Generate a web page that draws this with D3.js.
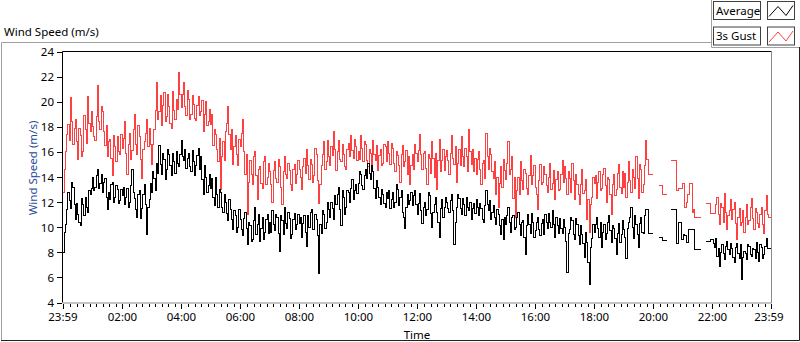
<!DOCTYPE html>
<html>
<head>
<meta charset="utf-8">
<script src="https://cdn.jsdelivr.net/npm/d3@7"></script>
<style>
  body { margin: 0; background: #fff; }
  svg { display: block; font-family: "Noto Sans", sans-serif; font-size: 11.5px; }
</style>
</head>
<body>
<script>
// minutes since 23:59 of the previous day, one reading every 5 minutes
const minutes = d3.range(0, 1441, 5);

// 1-minute average (black) on the 5-minute marks, null = no data
const average = [
  8.0, 10.2, 12.8, 11.5, 13.2, 10.6, 11.0, 10.1, 11.8, 12.4, 11.2, 12.6,
  14.0, 13.2, 14.6, 13.5, 12.8, 13.9, 11.4, 12.2, 13.6, 12.4, 13.0, 12.1,
  12.5, 11.8, 13.1, 12.0, 14.6, 12.3, 10.8, 12.9, 11.5, 13.4, 9.4, 12.2,
  12.8, 13.9, 15.1, 16.5, 14.2, 15.4, 14.6, 15.8, 14.1, 15.2, 16.0, 14.8,
  16.9, 15.3, 14.7, 15.9, 14.4, 15.2, 14.9, 16.3, 15.6, 12.6, 14.0, 13.3,
  13.1, 12.4, 14.0, 11.6, 12.8, 11.2, 12.0, 10.5, 11.4, 9.8, 10.9, 10.0,
  10.6, 9.3, 11.2, 8.6, 10.1, 9.0, 11.6, 10.2, 8.9, 10.8, 9.6, 11.0,
  10.4, 11.3, 9.7, 10.8, 8.1, 10.5, 11.6, 9.9, 10.7, 9.4, 11.1, 10.2,
  10.3, 9.2, 10.9, 8.5, 10.0, 11.4, 9.8, 10.6, 6.3, 9.5, 11.0, 10.4,
  11.4, 12.0, 10.6, 11.8, 13.2, 10.1, 12.4, 11.6, 12.8, 13.1, 12.2, 13.4,
  13.5, 14.2, 13.0, 14.6, 15.1, 13.8, 14.4, 12.3, 13.2, 11.8, 12.6, 11.6,
  12.3, 11.5, 12.8, 12.0, 13.0, 12.4, 11.2, 9.9, 12.6, 12.1, 11.7, 12.9,
  11.0, 12.7, 10.3, 12.0, 11.4, 12.5, 10.0, 11.8, 11.2, 9.2, 12.2, 11.6,
  12.0, 11.2, 12.6, 8.6, 11.6, 12.3, 11.0, 11.8, 12.4, 11.3, 10.6, 11.9,
  12.2, 10.9, 11.5, 10.4, 12.9, 11.3, 10.6, 11.7, 10.2, 11.0, 9.4, 9.0,
  10.2, 11.6, 9.6, 10.9, 10.0, 11.2, 9.3, 10.5, 7.8, 11.0, 9.5, 10.4,
  9.7, 10.8, 9.3, 10.6, 11.0, 9.9, 10.4, 11.3, 9.2, 10.1, 10.7, 9.5,
  10.0, 6.4, 9.8, 10.5, 9.0, 10.2, 8.6, 9.4, 7.6, 8.8, 5.4, 9.1,
  9.6, 10.8, 9.2, 8.4, 10.2, 9.5, 10.9, 8.8, 9.9, 7.8, 10.3, 9.4,
  9.8, 7.5, 10.4, 11.6, 9.1, 10.2, 8.4, 10.8, 9.5, 11.4, 9.5, 9.5,
  9.5, null, null, 9.2, 8.95, 8.95, null, null, 11.4, 11.4, 8.7, 10.4,
  9.0, 9.3, 8.8, 9.8, 9.8, 8.2, 8.2, 8.2, null, null, 8.9, 8.9,
  9.0, 8.4, 7.7, 6.9, 8.6, 7.4, 8.9, 7.8, 8.3, 7.2, 8.7, 7.5,
  5.8, 8.1, 7.4, 8.5, 7.7, 8.2, 8.8, 7.3, 8.4, 7.8, 9.1, 8.3,
  8.3
];
// average half way between the 5-minute marks (t + 2.5 min)
const averageMid = [
  9.6, 11.4, 12.1, 13.6, 11.8, 11.9, 10.4, 12.3, 10.9, 11.6, 12.9, 13.1,
  12.9, 14.1, 13.1, 14.2, 13.6, 12.4, 12.8, 13.4, 12.0, 13.3, 11.9, 13.0,
  13.2, 12.4, 11.6, 13.3, 12.8, 11.4, 12.6, 10.7, 12.6, 11.8, 11.6, 13.5,
  14.4, 12.9, 14.3, 15.0, 15.9, 13.8, 16.2, 14.9, 15.9, 14.3, 15.1, 15.8,
  15.6, 16.2, 15.5, 14.8, 16.1, 14.1, 15.7, 14.6, 13.8, 14.9, 12.8, 14.2,
  13.9, 11.7, 12.6, 13.0, 11.6, 12.6, 11.1, 12.2, 10.6, 11.3, 9.6, 11.4,
  9.8, 10.7, 9.9, 10.4, 8.9, 10.5, 9.4, 11.0, 9.9, 9.0, 10.6, 9.5,
  9.6, 10.2, 11.0, 9.5, 10.9, 9.4, 10.3, 11.2, 9.1, 10.6, 9.8, 11.0,
  10.8, 10.3, 9.6, 10.9, 11.2, 9.8, 11.0, 9.3, 10.2, 11.3, 9.9, 12.0,
  10.8, 11.5, 12.5, 12.6, 11.4, 12.9, 11.0, 12.9, 12.0, 13.8, 12.9, 12.7,
  14.4, 13.3, 14.1, 13.9, 14.3, 14.9, 13.1, 13.7, 12.4, 13.0, 11.9, 12.8,
  12.9, 12.2, 11.6, 13.4, 11.7, 12.9, 10.8, 11.6, 11.8, 12.8, 12.5, 11.8,
  11.9, 11.3, 11.6, 10.9, 12.8, 11.1, 11.2, 12.4, 10.4, 11.5, 10.8, 12.4,
  11.5, 12.1, 11.3, 10.4, 12.6, 11.5, 12.3, 10.9, 11.6, 12.0, 11.5, 11.1,
  11.6, 11.9, 10.6, 11.7, 11.8, 12.1, 11.2, 10.8, 11.4, 10.1, 10.6, 10.8,
  10.9, 10.4, 10.8, 9.8, 10.8, 10.2, 10.4, 9.2, 10.1, 10.2, 11.1, 9.2,
  10.4, 9.8, 10.3, 9.4, 10.4, 11.1, 10.0, 10.2, 10.8, 9.5, 9.9, 10.6,
  8.9, 9.5, 10.8, 9.4, 10.7, 9.3, 10.1, 8.7, 9.6, 7.2, 8.4, 10.2,
  10.2, 9.9, 10.4, 9.6, 9.0, 10.4, 9.7, 10.1, 9.1, 9.5, 8.8, 10.5,
  9.2, 9.9, 10.8, 10.0, 10.9, 9.4, 10.3, 9.6, 10.9, 11.4, 9.5, 9.5,
  null, null, 9.2, 9.2, 8.95, 8.95, null, 11.4, 11.4, 8.7, 10.4, 9.0,
  9.4, 8.8, 9.8, 9.8, 9.8, 8.2, 8.2, 8.2, null, 8.9, 8.9, 9.0,
  8.7, 9.1, 8.3, 8.0, 7.9, 8.5, 8.2, 8.7, 7.6, 8.4, 7.9, 8.6,
  7.6, 7.9, 8.6, 7.8, 8.3, 7.5, 8.0, 8.6, 7.5, 8.5, 8.3, 8.3
];

// 3 second gust (red) on the 5-minute marks
const gust = [
  12.8, 16.0, 18.2, 20.3, 16.6, 18.6, 15.4, 17.3, 16.0, 17.8, 20.4, 17.6,
  18.0, 16.9, 21.3, 17.8, 19.2, 16.5, 15.6, 17.0, 14.1, 16.4, 17.2, 15.8,
  16.3, 18.4, 14.2, 17.5, 16.1, 19.0, 15.8, 17.2, 13.9, 16.8, 18.6, 17.9,
  15.0, 17.8, 21.5, 19.2, 18.1, 20.7, 18.8, 19.6, 17.9, 19.3, 20.2, 22.3,
  19.5, 21.5, 18.9, 20.2, 19.0, 19.8, 18.5, 20.4, 19.2, 17.6, 20.0, 18.4,
  18.2, 16.5, 17.4, 15.2, 13.0, 16.8, 17.6, 19.6, 16.2, 15.0, 17.3, 14.9,
  16.4, 18.6, 14.2, 11.0, 15.3, 13.4, 16.0, 12.2, 14.8, 13.1, 15.6, 14.0,
  14.4, 12.0, 15.2, 13.6, 14.8, 11.8, 15.6, 13.9, 14.5, 12.9, 15.0, 14.2,
  14.6, 13.0, 15.5, 16.2, 13.8, 15.0, 14.1, 15.8, 11.9, 14.9, 16.8, 15.2,
  15.6, 16.4, 17.6, 14.5, 16.9, 15.2, 15.8, 14.6, 16.7, 17.3, 15.5, 16.4,
  16.0, 17.3, 15.2, 16.6, 14.8, 15.9, 16.9, 15.3, 14.5, 16.2, 15.1, 16.4,
  16.8, 15.0, 16.3, 14.4, 15.7, 13.6, 16.5, 15.2, 14.2, 13.4, 15.8, 16.6,
  15.2, 17.4, 14.6, 16.0, 13.4, 15.5, 16.8, 14.0, 13.0, 17.0, 15.3, 14.5,
  16.1, 14.2, 17.3, 15.0, 13.6, 16.2, 17.2, 14.8, 15.6, 17.8, 15.0, 14.4,
  14.2, 16.0, 13.4, 15.3, 17.5, 14.6, 15.8, 13.9, 12.6, 11.6, 14.8, 15.4,
  13.8, 16.8, 14.6, 12.3, 10.8, 14.0, 15.2, 13.0, 14.3, 12.6, 15.7, 14.1,
  13.2, 11.4, 15.0, 13.6, 14.2, 12.8, 15.1, 13.5, 12.2, 14.4, 13.0, 15.3,
  14.8, 12.6, 13.9, 15.1, 12.2, 13.4, 11.8, 14.6, 12.9, 10.6, 9.6, 12.4,
  13.5, 12.3, 14.4, 13.1, 14.7, 12.0, 13.8, 11.0, 14.2, 13.0, 15.0, 12.7,
  13.2, 12.4, 15.2, 12.8, 14.0, 15.6, 12.3, 14.6, 13.4, 16.9, 14.2, 14.2,
  14.2, null, null, 13.3, 12.6, 12.6, null, null, 15.3, 15.3, 12.9, 13.1,
  13.5, 11.6, 12.6, 13.5, 11.2, 10.75, 10.75, 10.75, null, null, 11.9, 11.9,
  11.1, 11.1, 12.4, 10.2, 11.6, 12.7, 9.8, 11.3, 10.6, 12.0, 9.0, 11.5,
  10.4, 9.6, 11.8, 10.5, 12.3, 9.8, 11.2, 10.0, 11.6, 9.5, 12.5, 10.8,
  10.8
];
// gust half way between the 5-minute marks (t + 2.5 min)
const gustMid = [
  14.6, 17.4, 16.9, 18.4, 17.9, 16.8, 17.9, 15.6, 18.9, 16.7, 18.3, 19.2,
  17.2, 18.8, 18.4, 19.6, 17.6, 18.1, 16.8, 15.5, 17.3, 15.2, 16.0, 17.4,
  17.1, 15.9, 16.6, 15.4, 17.8, 16.6, 18.1, 15.4, 16.2, 17.5, 16.4, 16.6,
  16.6, 19.3, 18.6, 20.5, 19.7, 18.4, 20.6, 18.3, 20.8, 18.6, 19.4, 20.6,
  20.6, 19.6, 20.9, 18.6, 20.5, 18.7, 19.7, 18.9, 20.1, 19.0, 18.1, 19.4,
  19.0, 17.8, 16.2, 17.1, 15.6, 15.3, 18.3, 17.4, 17.8, 16.4, 15.8, 17.0,
  17.5, 16.0, 15.8, 13.6, 14.2, 15.6, 14.1, 14.6, 13.5, 15.2, 13.4, 15.1,
  13.4, 14.5, 13.9, 15.4, 13.2, 14.4, 14.2, 15.1, 13.4, 14.6, 13.5, 15.3,
  14.0, 14.8, 14.3, 14.9, 15.4, 13.6, 16.3, 13.7, 13.4, 15.8, 14.6, 16.9,
  14.9, 15.7, 16.2, 16.0, 15.4, 16.6, 14.8, 16.2, 15.6, 16.1, 17.0, 15.3,
  15.4, 16.3, 16.8, 15.3, 16.2, 15.0, 15.8, 16.5, 15.7, 14.9, 16.6, 15.2,
  15.9, 16.7, 15.1, 16.0, 14.9, 15.8, 14.8, 16.1, 15.6, 14.9, 14.6, 15.9,
  16.1, 15.8, 15.9, 14.7, 15.8, 14.3, 15.5, 15.9, 15.3, 14.4, 16.2, 15.6,
  15.3, 15.9, 15.5, 16.4, 15.1, 14.9, 15.6, 16.3, 14.4, 16.0, 16.2, 15.5,
  15.4, 14.6, 15.1, 13.9, 15.6, 16.3, 14.4, 15.2, 14.0, 13.5, 13.2, 14.5,
  15.1, 14.2, 15.6, 14.0, 12.9, 12.6, 13.7, 14.6, 13.1, 14.1, 13.4, 14.9,
  12.6, 13.7, 13.4, 14.8, 13.3, 14.0, 13.0, 14.5, 13.8, 12.9, 14.2, 13.6,
  13.9, 14.4, 12.8, 13.7, 14.2, 12.6, 13.4, 12.7, 13.8, 12.2, 11.8, 14.0,
  14.1, 13.6, 12.9, 14.2, 13.3, 14.0, 12.6, 13.4, 12.5, 14.3, 13.2, 14.4,
  14.3, 13.6, 13.7, 14.6, 13.1, 13.9, 15.0, 12.8, 14.9, 15.4, 14.2, 14.2,
  null, null, 13.3, 13.3, 12.6, 12.6, null, 15.3, 15.3, 12.9, 13.1, 13.1,
  13.5, 12.0, 12.6, 13.5, 11.4, 10.75, 10.75, 10.75, null, 11.9, 11.9, 11.1,
  11.1, 11.8, 11.0, 11.9, 10.4, 11.2, 10.9, 12.2, 11.4, 10.3, 10.8, 10.1,
  11.3, 10.8, 10.2, 11.6, 10.7, 11.5, 10.3, 11.0, 10.2, 11.3, 11.0, 10.8
];

const tickMinutes = [0, 121, 241, 361, 481, 601, 721, 841, 961, 1081, 1201, 1321, 1440];
const tickLabels = ["23:59", "02:00", "04:00", "06:00", "08:00", "10:00", "12:00",
                    "14:00", "16:00", "18:00", "20:00", "22:00", "23:59"];
const yTicks = [4, 6, 8, 10, 12, 14, 16, 18, 20, 22, 24];

const legendNames = ["Average", "3s Gust"];
const legendColors = ["#000000", "#ff4040"];

const W = 800, H = 342;
const plot = { left: 62.5, right: 771.5, top: 51.5, bottom: 302.5 };

const svg = d3.select("body").append("svg")
  .attr("width", W)
  .attr("height", H);

const x = d3.scaleLinear().domain([0, 1440]).range([63, 771]);
const y = d3.scaleLinear().domain([4, 24]).range([plot.bottom, plot.top]);

// outer panel
svg.append("text").attr("x", 4).attr("y", 36).text("Wind Speed (m/s)");
svg.append("path").attr("d", "M1.5,341 V42.5 H711.5").attr("fill", "none").attr("stroke", "#a0a0a0");
svg.append("path").attr("d", "M711.5,0 V47.5 H800").attr("fill", "none").attr("stroke", "#a0a0a0");
svg.append("path").attr("d", "M1,340.5 H799.5 V47").attr("fill", "none").attr("stroke", "#202020");

// legend
const leg = svg.append("g");
legendNames.forEach((name, i) => {
  const top = 1.5 + i * 25.5;
  leg.append("rect").attr("x", 713.5).attr("y", top).attr("width", 47).attr("height", 18)
    .attr("fill", "#fff").attr("stroke", "#404040");
  leg.append("text").attr("x", 716).attr("y", top + 13).text(name);
  leg.append("rect").attr("x", 767.5).attr("y", top).attr("width", 27).attr("height", 18)
    .attr("fill", "#fff").attr("stroke", "#404040");
  leg.append("path")
    .attr("d", `M769,${top + 15} L778,${top + 5} L786,${top + 14} L793,${top + 4}`)
    .attr("fill", "none").attr("stroke", legendColors[i]).attr("stroke-width", 1);
});

// plot frame
svg.append("path").attr("d", `M${plot.left},${plot.bottom} V${plot.top} H${plot.right}`)
  .attr("fill", "none").attr("stroke", "#000");
svg.append("path").attr("d", `M${plot.left},${plot.bottom + 0.5} H${plot.right} V${plot.top}`)
  .attr("fill", "none").attr("stroke", "#8a8a8a");

// y axis
const gy = svg.append("g");
yTicks.forEach(v => {
  gy.append("line").attr("x1", 57).attr("x2", 62).attr("y1", Math.round(y(v)) + 0.5).attr("y2", Math.round(y(v)) + 0.5)
    .attr("stroke", "#000");
  gy.append("text").attr("x", 54).attr("y", y(v)).attr("text-anchor", "end")
    .attr("dominant-baseline", "central").text(v);
});
svg.append("text")
  .attr("transform", "translate(32,168) rotate(-90)")
  .attr("text-anchor", "middle").attr("dominant-baseline", "central")
  .attr("fill", "#2c4a9a")
  .text("Wind Speed (m/s)");

// x axis
const gx = svg.append("g");
for (let i = 0; i < tickMinutes.length - 1; i++) {
  const a = tickMinutes[i] === 0 ? 1 : tickMinutes[i];
  const step = 120 / 9;
  for (let k = 1; k < 9; k++) {
    const m = a + k * step;
    if (m >= 1440) break;
    const px = Math.round(x(m)) + 0.5;
    gx.append("line").attr("x1", px).attr("x2", px).attr("y1", 304).attr("y2", 307).attr("stroke", "#000");
  }
}
tickMinutes.forEach((m, i) => {
  const px = Math.round(x(m)) + 0.5;
  gx.append("line").attr("x1", px).attr("x2", px).attr("y1", 304).attr("y2", 309).attr("stroke", "#000");
  gx.append("text").attr("x", i === tickMinutes.length - 1 ? x(m) - 2 : x(m)).attr("y", 321)
    .attr("text-anchor", "middle").text(tickLabels[i]);
});
svg.append("text").attr("x", 417).attr("y", 338.5).attr("text-anchor", "middle").text("Time");

// data: interleave the 5-minute marks with the half-way readings
function series(main, mid) {
  const pts = [];
  minutes.forEach((m, i) => {
    pts.push([m, main[i]]);
    if (i < mid.length) pts.push([m + 2.5, mid[i]]);
  });
  return pts;
}

const line = d3.line()
  .defined(d => d[1] != null)
  .x(d => x(d[0]))
  .y(d => y(d[1]))
  .curve(d3.curveStepAfter);

svg.append("path")
  .attr("d", line(series(gust, gustMid)))
  .attr("fill", "none").attr("stroke", "#ff4040").attr("stroke-width", 1)
  .attr("shape-rendering", "crispEdges");
svg.append("path")
  .attr("d", line(series(average, averageMid)))
  .attr("fill", "none").attr("stroke", "#000").attr("stroke-width", 1)
  .attr("shape-rendering", "crispEdges");
</script>
</body>
</html>
